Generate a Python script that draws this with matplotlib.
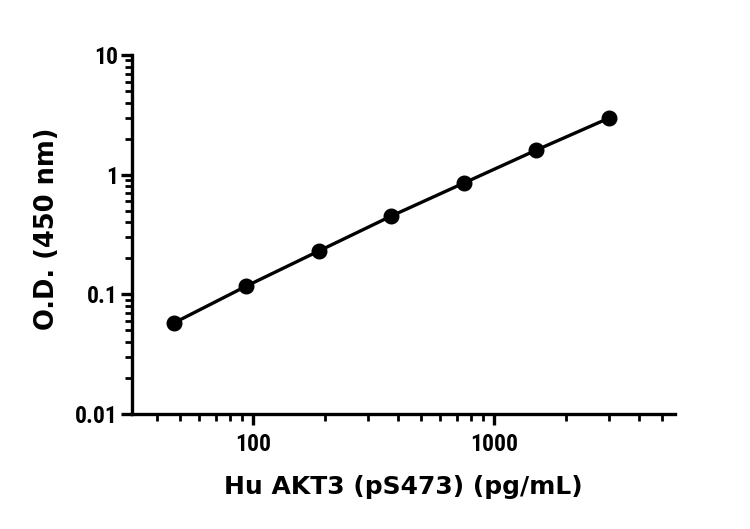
import matplotlib
matplotlib.use("Agg")
import matplotlib.pyplot as plt
from matplotlib.ticker import LogLocator, FixedFormatter, FixedLocator, NullFormatter

# Standard curve values
conc = [46.875, 93.75, 187.5, 375, 750, 1500, 3000]
od = [0.0575, 0.117, 0.230, 0.451, 0.851, 1.606, 2.97]

x_ticks = [100, 1000]
x_labels = ["100", "1000"]
y_ticks = [0.01, 0.1, 1, 10]
y_labels = ["0.01", "0.1", "1", "10"]

tick_font = ["Roboto Condensed", "DejaVu Sans"]
title_font = ["DejaVu Sans"]

fig = plt.figure(figsize=(7.5, 5.29), dpi=100)
ax = fig.add_axes([0.176, 0.2174, 0.724, 0.6786])

ax.plot(conc, od, color="black", lw=2.4, marker="o", markersize=10.5, zorder=3, clip_on=False)

ax.set_xscale("log")
ax.set_yscale("log")
ax.set_xlim(31.5, 5640)
ax.set_ylim(0.01, 10)

ax.xaxis.set_major_locator(FixedLocator(x_ticks))
ax.xaxis.set_major_formatter(FixedFormatter(x_labels))
ax.xaxis.set_minor_locator(LogLocator(base=10, subs=range(2, 10), numticks=20))
ax.xaxis.set_minor_formatter(NullFormatter())
ax.yaxis.set_major_locator(FixedLocator(y_ticks))
ax.yaxis.set_major_formatter(FixedFormatter(y_labels))
ax.yaxis.set_minor_locator(LogLocator(base=10, subs=range(2, 10), numticks=20))
ax.yaxis.set_minor_formatter(NullFormatter())

for s in ["top", "right"]:
    ax.spines[s].set_visible(False)
for s in ["left", "bottom"]:
    ax.spines[s].set_linewidth(2.4)

ax.tick_params(which="major", length=8, width=2.4, direction="out")
ax.tick_params(axis="y", which="major", pad=2)
ax.tick_params(axis="x", which="major", pad=6)
ax.tick_params(which="minor", length=5, width=2.0, direction="out")
for lab in ax.get_xticklabels() + ax.get_yticklabels():
    lab.set_fontfamily(tick_font)
    lab.set_fontweight("bold")
    lab.set_fontsize(17)

ax.set_xlabel("Hu AKT3 (pS473) (pg/mL)", fontsize=18, fontweight="bold", family=title_font)
ax.set_ylabel("O.D. (450 nm)", fontsize=18.5, fontweight="bold", family=title_font)
ax.xaxis.set_label_coords(0.5, -0.170)
ax.yaxis.set_label_coords(-0.133, 0.515)

fig.savefig("out.png", dpi=100)
